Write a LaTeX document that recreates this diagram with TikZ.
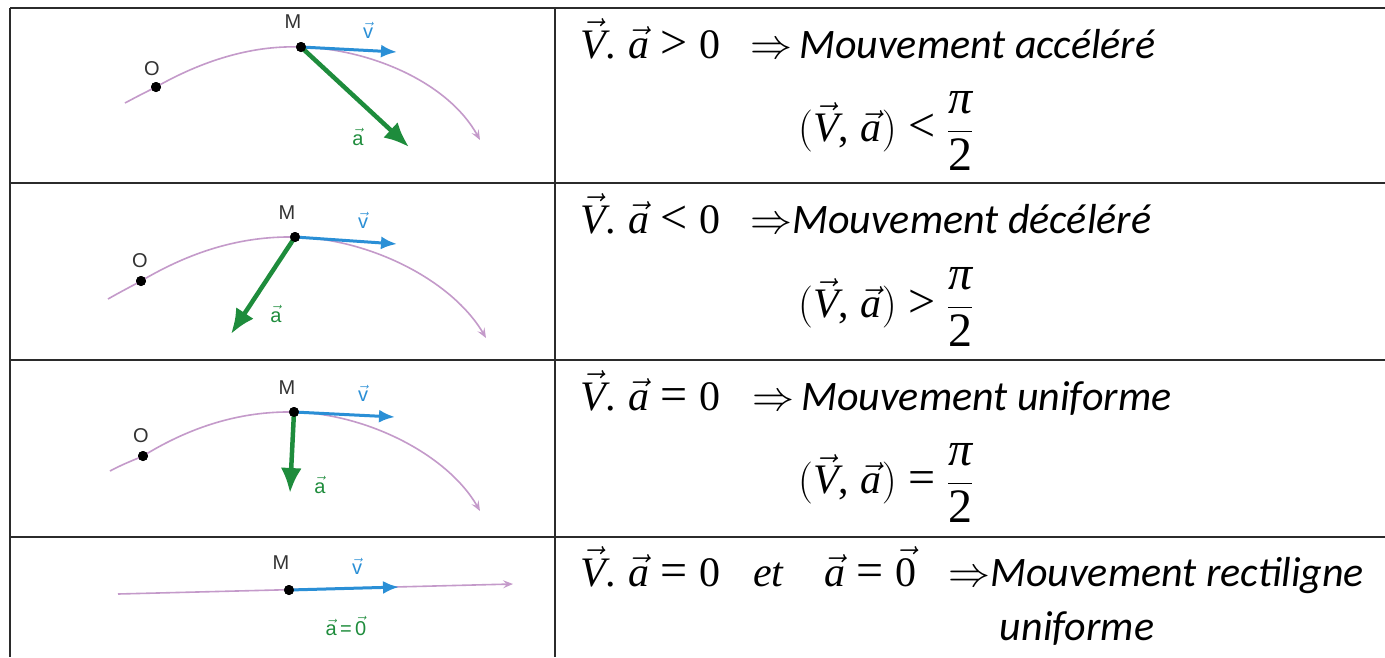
\RequirePackage{fix-cm}
\documentclass[tikz,border=0pt]{standalone}
\usepackage{fontspec}
\setsansfont{Liberation Sans}
\newfontfamily\calib{Carlito}
\newfontfamily\tnr{Liberation Serif}
\usetikzlibrary{arrows.meta}
\definecolor{traj}{HTML}{C49ACA}
\definecolor{vblue}{HTML}{2A8FD6}
\definecolor{agreen}{HTML}{1E8C3C}
\definecolor{lbl}{HTML}{333333}
\definecolor{rulec}{HTML}{2B2B2B}
\newcommand{\myvec}[1]{\ensuremath{\vec{\mbox{\tnr\itshape #1}}}}
\newcommand{\myvecup}[1]{\ensuremath{\vec{\mbox{\tnr #1}}}}
\newcommand{\tn}[1]{\mbox{\tnr #1}}
\newcommand{\rel}[1]{\mathrel{\mbox{\fontsize{48}{48}\selectfont\tnr #1}}}
\newcommand{\halfpi}{\frac{\mbox{\fontsize{48}{48}\selectfont\tnr\itshape π}}{\mbox{\fontsize{48}{48}\selectfont\tnr 2}}}
\begin{document}
\begin{tikzpicture}[x=1pt,y=-1pt,
  dot/.style={circle,fill=black,inner sep=0pt,minimum size=10pt},
  ptlabel/.style={font=\sffamily\fontsize{20}{20}\selectfont,text=lbl,inner sep=0pt},
  vlabel/.style={font=\sffamily\fontsize{20}{20}\selectfont,text=vblue,inner sep=0pt},
  alabel/.style={font=\sffamily\fontsize{20}{20}\selectfont,text=agreen,inner sep=0pt},
  trajectory/.style={draw=traj,line width=1.6pt,-{Stealth[length=10pt,width=8pt,inset=4pt]}},
  vvec/.style={draw=vblue,line width=3pt,-{Latex[length=16pt,width=13pt]}},
  avec/.style={draw=agreen,line width=4.5pt,-{Latex[length=25pt,width=21pt]}},
  rulel/.style={draw=rulec,line width=2.5pt},
  mathtxt/.style={font=\fontsize{42}{42}\selectfont,inner sep=0pt,anchor=base west},
  formula/.style={font=\fontsize{42}{42}\selectfont,inner sep=0pt,anchor=west},
  wordtxt/.style={font=\fontsize{42}{42}\selectfont,inner sep=0pt,anchor=base west},
]
\useasboundingbox (0,0) rectangle (1385,657);
\fill[white] (0,0) rectangle (1385,657);

% table rules
\draw[rulel] (10,8) -- (1385,8);
\draw[rulel] (10,183) -- (1385,183);
\draw[rulel] (10,360) -- (1385,360);
\draw[rulel] (10,537) -- (1385,537);
\draw[rulel] (10,8) -- (10,657);
\draw[rulel] (555,8) -- (555,657);

% ---------- Row 1 ----------
\coordinate (S1) at (125,103);
\node[dot] (O1) at (156,87) {};
\node[dot] (M1) at (301,47) {};
\coordinate (E1) at (480,140);
\coordinate (V1) at (397,52);
\coordinate (A1) at (409,147);
\draw[trajectory] (S1) .. controls (138,96) and (146,92) .. (O1.center)
  .. controls (200,62) and (250,45) .. (M1.center)
  .. controls (370,49) and (448,82) .. (E1);
\draw[vvec] (M1.center) -- (V1);
\draw[avec] (M1.center) -- (A1);
\node[dot] at (O1) {};
\node[dot] at (M1) {};
\node[ptlabel] (lM1) at (293,22) {M};
\node[ptlabel] (lO1) at (152,69) {O};
\node[vlabel] (lv1) at (368,30) {$\vec{\mbox{v}}$};
\node[alabel] (la1) at (358,137) {$\vec{\mbox{a}}$};

% ---------- Row 2 ----------
\coordinate (S2) at (108,299);
\node[dot] (O2) at (141,281) {};
\node[dot] (M2) at (295,237) {};
\coordinate (E2) at (486,338);
\coordinate (V2) at (397,244);
\coordinate (A2) at (231,334);
\draw[trajectory] (S2) .. controls (122,291) and (132,286) .. (O2.center)
  .. controls (190,252) and (240,236) .. (M2.center)
  .. controls (370,239) and (452,280) .. (E2);
\draw[vvec] (M2.center) -- (V2);
\draw[avec] (M2.center) -- (A2);
\node[dot] at (O2) {};
\node[dot] at (M2) {};
\node[ptlabel] (lM2) at (287,213) {M};
\node[ptlabel] (lO2) at (140,261) {O};
\node[vlabel] (lv2) at (363,220) {$\vec{\mbox{v}}$};
\node[alabel] (la2) at (276,314) {$\vec{\mbox{a}}$};

% ---------- Row 3 ----------
\coordinate (S3) at (110,471);
\node[dot] (O3) at (143,456) {};
\node[dot] (M3) at (294,412) {};
\coordinate (E3) at (480,511);
\coordinate (V3) at (395,417);
\coordinate (A3) at (290,493);
\draw[trajectory] (S3) .. controls (123,464) and (134,460) .. (O3.center)
  .. controls (190,427) and (240,411) .. (M3.center)
  .. controls (368,414) and (448,455) .. (E3);
\draw[vvec] (M3.center) -- (V3);
\draw[avec] (M3.center) -- (A3);
\node[dot] at (O3) {};
\node[dot] at (M3) {};
\node[ptlabel] (lM3) at (287,388) {M};
\node[ptlabel] (lO3) at (141,436) {O};
\node[vlabel] (lv3) at (363,393) {$\vec{\mbox{v}}$};
\node[alabel] (la3) at (320,485) {$\vec{\mbox{a}}$};

% ---------- Row 4 ----------
\coordinate (S4) at (118,594);
\node[dot] (M4) at (289,590) {};
\coordinate (E4) at (513,584);
\coordinate (V4) at (399,587);
\draw[trajectory] (S4) -- (E4);
\draw[vvec] (M4.center) -- (V4);
\node[dot] at (M4) {};
\node[ptlabel] (lM4) at (281,563) {M};
\node[vlabel] (lv4) at (357,566) {$\vec{\mbox{v}}$};
\node[alabel] (la4) at (346,626) {$\vec{\mbox{a}}$\,=\,$\vec{\mbox{0}}$};

% ---------- Right column ----------
\node[mathtxt] (c1) at (580,58) {$\myvec{V}\tn{.}\;\myvec{a}\rel{>}\tn{0}$};
\node[wordtxt] (t1) at (750,58) {$\Rightarrow$\,{\calib\itshape Mouvement accéléré}};
\node[formula] (f1) at (798,131) {$\displaystyle\biggl(\myvec{V}\tn{,}\;\myvec{a}\biggr)\rel{<}\halfpi$};

\node[mathtxt] (c2) at (580,233) {$\myvec{V}\tn{.}\;\myvec{a}\rel{<}\tn{0}$};
\node[wordtxt] (t2) at (750,233) {$\Rightarrow${\calib\itshape Mouvement décéléré}};
\node[formula] (f2) at (798,307) {$\displaystyle\biggl(\myvec{V}\tn{,}\;\myvec{a}\biggr)\rel{>}\halfpi$};

\node[mathtxt] (c3) at (580,410) {$\myvec{V}\tn{.}\;\myvec{a}\rel{=}\tn{0}$};
\node[wordtxt] (t3) at (752,410) {$\Rightarrow$\,{\calib\itshape Mouvement uniforme}};
\node[formula] (f3) at (798,483) {$\displaystyle\biggl(\myvec{V}\tn{,}\;\myvec{a}\biggr)\rel{=}\halfpi$};

\node[mathtxt] (c4) at (580,586) {$\myvec{V}\tn{.}\;\myvec{a}\rel{=}\tn{0}$};
\node[mathtxt] (et4) at (753,586) {\tnr\itshape et};
\node[mathtxt] (z4) at (824,586) {$\myvec{a}\rel{=}\myvecup{0}$};
\node[wordtxt] (t4) at (948,586) {$\Rightarrow${\calib\itshape Mouvement rectiligne}};
\node[wordtxt,anchor=base] (u4) at (1077,640) {{\calib\itshape uniforme}};
\end{tikzpicture}
\end{document}
